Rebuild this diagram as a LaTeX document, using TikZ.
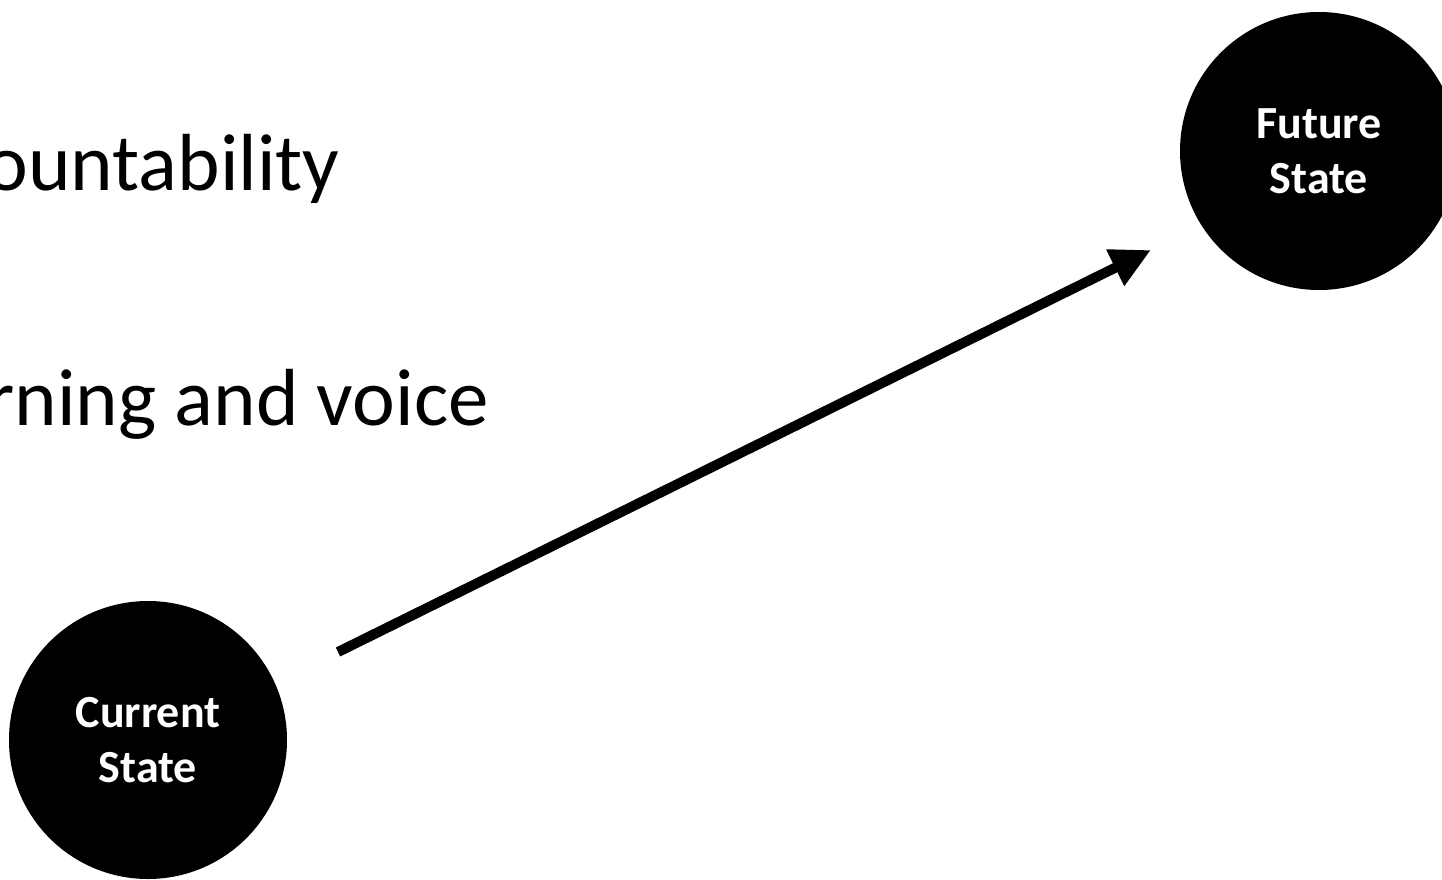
\documentclass[tikz,border=0pt]{standalone}
\usepackage{fontspec}
\setmainfont{Carlito}
\usetikzlibrary{arrows.meta}
\begin{document}
\begin{tikzpicture}[x=1pt,y=-1pt,
  state/.style={circle,fill=black,minimum size=278pt,inner sep=0pt,text=white,
    font=\fontsize{46}{55}\selectfont\bfseries,align=center},
  bigtext/.style={anchor=base east,inner sep=0pt,font=\fontsize{81}{90}\selectfont},
  flow/.style={line width=10pt,-{Triangle[length=40pt,width=38pt]}}]
\useasboundingbox (0,0) rectangle (1442,880);
\node[state] (cur) at (148,740) {Current\\State};
\node[state] (fut) at (1319,151) {Future\\State};
\node[bigtext] (t1) at (340,190) {ountability};
\node[bigtext] (t2) at (489,425) {rning and voice};
\coordinate (a0) at (338,652);
\coordinate (a1) at (1151,250);
\draw[flow] (a0) -- (a1);
\end{tikzpicture}
\end{document}
